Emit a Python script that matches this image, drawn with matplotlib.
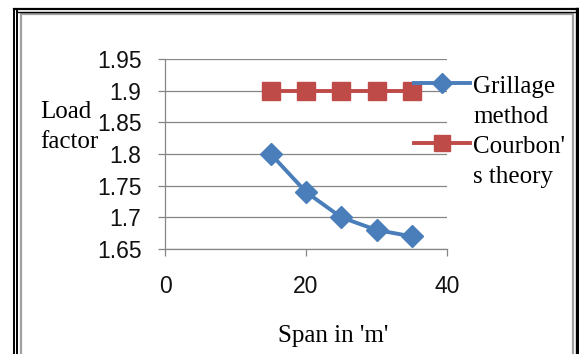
import matplotlib
matplotlib.use("Agg")
import matplotlib.pyplot as plt
from matplotlib.lines import Line2D
from matplotlib.patches import Rectangle

# data
span = [15, 20, 25, 30, 35]
grillage = [1.80, 1.74, 1.70, 1.68, 1.67]
courbon = [1.90, 1.90, 1.90, 1.90, 1.90]
series_names = ["Grillage\nmethod", "Courbon'\ns theory"]
x_ticks = [0, 20, 40]
y_ticks = [1.65, 1.70, 1.75, 1.80, 1.85, 1.90, 1.95]

BLUE = "#4A7EBB"
RED = "#BE4B48"
GRID = "#868686"
W, H = 579, 354

fig = plt.figure(figsize=(W / 100, H / 100), dpi=100)
fig.patch.set_facecolor("white")


def fx(px):
    return px / W


def fy(py):
    return 1 - py / H


# frame around the chart (double black + inner grey)
for x0 in (13.5, 16.5):
    fig.add_artist(Line2D([fx(x0), fx(x0)], [fy(9), 0],
                          color="black", lw=1.4, transform=fig.transFigure))
fig.add_artist(Line2D([fx(13.5), fx(578)], [fy(9), fy(9)], color="black", lw=1.6,
                      transform=fig.transFigure))
fig.add_artist(Line2D([fx(16.5), fx(578)], [fy(12), fy(12)], color="black", lw=1.0,
                      transform=fig.transFigure))
fig.add_artist(Line2D([fx(576.5), fx(576.5)], [fy(9), 0], color="black", lw=2.4,
                      transform=fig.transFigure))
fig.add_artist(Rectangle((fx(21), -0.05), fx(573) - fx(21), fy(14) + 0.05,
                         fill=False, edgecolor="#A0A0A0", lw=1.6,
                         transform=fig.transFigure))

ax = fig.add_axes([fx(165), fy(249), fx(447) - fx(165), fy(59) - fy(249)])
ax.set_facecolor("white")

ax.plot(span, grillage, color=BLUE, lw=2.8, marker="D", ms=11,
        mfc=BLUE, mec=BLUE, zorder=3)
ax.plot(span, courbon, color=RED, lw=2.8, marker="s", ms=13,
        mfc=RED, mec=RED, zorder=3)

ax.set_xlim(0, 40)
ax.set_ylim(1.65, 1.95)
ax.set_xticks(x_ticks)
ax.set_yticks(y_ticks)
ax.set_xticklabels([str(v) for v in x_ticks])
ax.set_yticklabels(["%g" % v for v in y_ticks])
ax.grid(axis="y", color=GRID, lw=0.9, zorder=0)
ax.set_axisbelow(True)
for s in ("top", "right"):
    ax.spines[s].set_visible(False)
for s in ("left", "bottom"):
    ax.spines[s].set_color(GRID)
    ax.spines[s].set_linewidth(0.9)
ax.tick_params(axis="both", colors=GRID, length=5, width=0.9,
               labelsize=16.5, labelcolor="#111111",
               labelfontfamily="Liberation Sans")
ax.tick_params(axis="y", pad=12)
ax.tick_params(axis="x", pad=14)

serif = "Liberation Serif"
LINE = 30  # px between text lines, as in the picture


def text_lines(x, y_base, txt):
    for i, part in enumerate(txt.split("\n")):
        fig.text(fx(x), fy(y_base + i * LINE), part, family=serif, fontsize=18,
                 ha="left", va="baseline")


text_lines(40, 118, "Load\nfactor")
fig.text(fx(333), fy(342), "Span in 'm'", family=serif, fontsize=18,
         ha="center", va="baseline")

# legend drawn by hand to keep the marker on the first text line
legend_rows = [(BLUE, "D", 10, 83), (RED, "s", 12, 143)]
for (col, mk, ms, yy), name in zip(legend_rows, series_names):
    fig.add_artist(Line2D([fx(414), fx(470)], [fy(yy), fy(yy)], color=col, lw=2.8,
                          transform=fig.transFigure))
    fig.add_artist(Line2D([fx(442)], [fy(yy)], color=col, marker=mk, ms=ms,
                          mfc=col, mec=col, lw=0, transform=fig.transFigure))
    text_lines(473, yy + 10, name)

fig.savefig("out.png", dpi=100, facecolor="white")
